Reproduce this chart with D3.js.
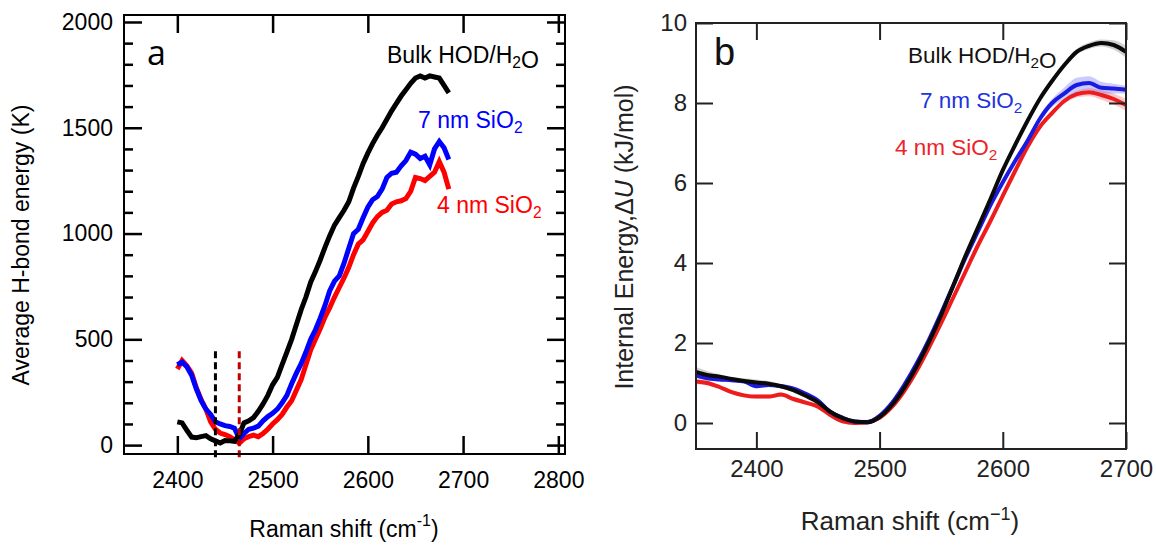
<!DOCTYPE html>
<html lang="en">
<head>
<meta charset="UTF-8" />
<title>H-bond energy vs Raman shift</title>
<script src="https://d3js.org/d3.v7.min.js"></script>
<style>
  body { margin: 0; background: #fff; }
  svg { display: block; font-family: "Liberation Sans", Arial, Helvetica, sans-serif; }
</style>
</head>
<body>
<svg width="1156" height="546"></svg>
<script>
// ---- panel a : average H-bond energy (K) ----
const shiftA = [2400, 2405, 2410, 2415, 2420, 2425, 2430, 2435, 2440, 2445, 2450, 2455, 2460, 2465, 2470,
  2475, 2480, 2485, 2490, 2495, 2500, 2505, 2510, 2515, 2520, 2525, 2530, 2535, 2540, 2545, 2550, 2555,
  2560, 2565, 2570, 2575, 2580, 2585, 2590, 2595, 2600, 2605, 2610, 2615, 2620, 2625, 2630, 2635, 2640,
  2645, 2650, 2655, 2660, 2665, 2670, 2675, 2680, 2685];
const bulkA = [110, 105, 70, 38, 35, 40, 45, 30, 20, 10, 22, 20, 18, 50, 105,
  115, 130, 160, 195, 235, 285, 320, 380, 440, 500, 570, 640, 700, 770, 820, 875, 935,
  990, 1040, 1075, 1110, 1150, 1215, 1270, 1330, 1380, 1425, 1465, 1500, 1540, 1580, 1615, 1650, 1680,
  1710, 1735, 1745, 1735, 1745, 1740, 1735, 1700, 1665];
const sio7A = [380, 392, 370, 330, 265, 210, 170, 145, 110, 100, 92, 88, 80, 30, 55,
  75, 80, 90, 115, 135, 150, 170, 200, 235, 290, 340, 385, 440, 500, 545, 600, 660,
  730, 775, 800, 860, 930, 1000, 1020, 1075, 1125, 1160, 1175, 1210, 1265, 1285, 1290, 1320, 1345,
  1385, 1375, 1355, 1365, 1325, 1400, 1435, 1405, 1350];
const sio4A = [360, 400, 375, 340, 270, 215, 170, 110, 75, 57, 50, 40, 25, 10, 30,
  40, 47, 40, 55, 75, 100, 120, 145, 180, 210, 260, 310, 380, 450, 500, 550, 605,
  650, 700, 745, 790, 840, 900, 950, 970, 1010, 1050, 1080, 1100, 1110, 1140, 1150, 1155, 1165,
  1200, 1265, 1260, 1250, 1270, 1290, 1340, 1290, 1210];
const minimaA = [2440, 2465];           // dashed markers: bulk, SiO2
const markerSpanA = [-57, 460];
const xTicksA = [2400, 2500, 2600, 2700, 2800];
const yTicksA = [0, 500, 1000, 1500, 2000];
const yMinorA = [100, 200, 300, 400, 600, 700, 800, 900, 1100, 1200, 1300, 1400, 1600, 1700, 1800, 1900];

// ---- panel b : internal energy (kJ/mol) ----
const shiftB = [2350, 2360, 2370, 2380, 2390, 2400, 2410, 2420, 2430, 2440, 2450, 2460, 2470, 2480,
  2490, 2500, 2510, 2520, 2530, 2540, 2550, 2560, 2570, 2580, 2590, 2600, 2610, 2620, 2630, 2640,
  2650, 2660, 2670, 2680, 2690, 2700];
const bulkB = [1.29, 1.20, 1.16, 1.10, 1.05, 1.01, 0.98, 0.92, 0.82, 0.68, 0.52, 0.28, 0.12, 0.04,
  0.02, 0.15, 0.45, 0.88, 1.41, 2.02, 2.70, 3.45, 4.20, 4.90, 5.60, 6.32, 6.95, 7.55, 8.10, 8.55,
  8.95, 9.28, 9.43, 9.50, 9.45, 9.28];
const sio7B = [1.20, 1.12, 1.09, 1.07, 1.04, 0.92, 0.95, 0.92, 0.86, 0.73, 0.56, 0.28, 0.13, 0.03,
  0.02, 0.18, 0.50, 0.95, 1.48, 2.08, 2.75, 3.45, 4.15, 4.80, 5.45, 6.02, 6.55, 7.05, 7.60, 8.00,
  8.24, 8.45, 8.50, 8.38, 8.36, 8.33];
const sio4B = [1.04, 1.00, 0.90, 0.77, 0.69, 0.66, 0.66, 0.71, 0.60, 0.51, 0.41, 0.20, 0.04, 0.00,
  0.02, 0.13, 0.40, 0.80, 1.30, 1.88, 2.50, 3.15, 3.80, 4.45, 5.05, 5.68, 6.30, 6.90, 7.40, 7.75,
  8.05, 8.22, 8.27, 8.20, 8.10, 7.95];
const bulkBErr = [0.12, 0.10, 0.06, 0.05, 0.07, 0.08, 0.07, 0.06, 0.05, 0.04, 0.04, 0.04, 0.03, 0.03,
  0.03, 0.03, 0.03, 0.04, 0.05, 0.05, 0.05, 0.05, 0.05, 0.05, 0.05, 0.05, 0.05, 0.05, 0.05, 0.06,
  0.06, 0.07, 0.08, 0.09, 0.12, 0.15];
const sio7BErr = [0.06, 0.05, 0.05, 0.05, 0.05, 0.05, 0.05, 0.05, 0.05, 0.05, 0.05, 0.05, 0.06, 0.06,
  0.06, 0.05, 0.05, 0.05, 0.05, 0.05, 0.05, 0.05, 0.05, 0.05, 0.05, 0.06, 0.07, 0.08, 0.08, 0.10,
  0.15, 0.18, 0.17, 0.15, 0.12, 0.10];
const sio4BErr = [0.07, 0.06, 0.05, 0.05, 0.05, 0.05, 0.05, 0.05, 0.05, 0.05, 0.05, 0.05, 0.05, 0.05,
  0.05, 0.05, 0.05, 0.05, 0.05, 0.05, 0.05, 0.05, 0.05, 0.05, 0.05, 0.05, 0.05, 0.05, 0.05, 0.06,
  0.06, 0.08, 0.10, 0.12, 0.14, 0.15];
const xTicksB = [2400, 2500, 2600, 2700];
const yTicksB = [0, 2, 4, 6, 8, 10];

const svg = d3.select("svg");
svg.append("rect").attr("width", 1156).attr("height", 546).attr("fill", "#fff");

// draws ticks on all four sides of a framed plot (inside ticks, labels left/bottom)
function frame(g, x, y, o) {
  const [x0, x1] = x.range(), [y0, y1] = y.range();
  const clean = sel => sel.call(s => s.select(".domain").remove());
  const style = (sel, w) => sel.selectAll(".tick line").attr("stroke", o.color).attr("stroke-width", w);

  const bottom = g.append("g").attr("transform", `translate(0,${y0})`)
    .call(d3.axisBottom(x).tickValues(o.xt).tickSizeInner(-o.tick).tickSizeOuter(0)
      .tickPadding(o.xpad).tickFormat(d3.format("d"))).call(clean);
  const top = g.append("g").attr("transform", `translate(0,${y1})`)
    .call(d3.axisTop(x).tickValues(o.xt).tickSizeInner(-o.tick).tickSizeOuter(0).tickFormat("")).call(clean);
  const left = g.append("g").attr("transform", `translate(${x0},0)`)
    .call(d3.axisLeft(y).tickValues(o.yt).tickSizeInner(-o.tick).tickSizeOuter(0)
      .tickPadding(o.ypad).tickFormat(d3.format("d"))).call(clean);
  const right = g.append("g").attr("transform", `translate(${x1},0)`)
    .call(d3.axisRight(y).tickValues(o.yt).tickSizeInner(-o.tick).tickSizeOuter(0).tickFormat("")).call(clean);
  [bottom, top, left, right].forEach(a => style(a, o.tw));

  if (o.ym) {
    [[d3.axisLeft, x0], [d3.axisRight, x1]].forEach(([ax, pos]) => {
      const m = g.append("g").attr("transform", `translate(${pos},0)`)
        .call(ax(y).tickValues(o.ym).tickSizeInner(-o.tick / 2).tickSizeOuter(0).tickFormat("")).call(clean);
      style(m, o.tw);
    });
  }
  g.selectAll(".tick text").attr("font-size", o.fs).attr("fill", o.color)
    .attr("font-family", "'Liberation Sans', Arial, sans-serif");

  g.append("rect").attr("x", x0).attr("y", y1).attr("width", x1 - x0).attr("height", y0 - y1)
    .attr("fill", "none").attr("stroke", o.color).attr("stroke-width", 2);
}

// legend text; object parts are subscripts
function label(g, x, y, parts, color, fs) {
  const t = g.append("text").attr("x", x).attr("y", y).attr("fill", color).attr("font-size", fs);
  parts.forEach(p => {
    if (typeof p === "object") {
      t.append("tspan").attr("font-size", fs * 0.68).attr("dy", fs * 0.22).text(p.low);
      t.append("tspan").attr("dy", -fs * 0.22).text("");
    } else t.append("tspan").text(p);
  });
  return t;
}

// ================= panel a =================
const ga = svg.append("g");
const xa = d3.scaleLinear().domain([2344, 2807]).range([124, 565]);
const ya = d3.scaleLinear().domain([-42, 2033]).range([454, 15]);

const lineA = vals => d3.line()
  .x((d, i) => xa(shiftA[i])).y(d => ya(d))(vals);

[[sio4A, "#ff0000"], [sio7A, "#0000ff"], [bulkA, "#000000"]].forEach(([vals, c]) => {
  ga.append("path").attr("d", lineA(vals)).attr("fill", "none")
    .attr("stroke", c).attr("stroke-width", 5).attr("stroke-linejoin", "miter");
});

minimaA.forEach((m, i) => {
  ga.append("line").attr("x1", xa(m)).attr("x2", xa(m))
    .attr("y1", ya(markerSpanA[0])).attr("y2", ya(markerSpanA[1]))
    .attr("stroke", i === 0 ? "#000" : "#c00000").attr("stroke-width", 3)
    .attr("stroke-dasharray", "7,4");
});

frame(ga, xa, ya, { xt: xTicksA, yt: yTicksA, ym: yMinorA, tick: 18, tw: 2.5,
  xpad: 18, ypad: 11, fs: 23, color: "#000" });

ga.append("text").attr("x", 147).attr("y", 65).attr("font-size", 34)
  .attr("font-family", "'Open Sans', 'Noto Sans', sans-serif").text("a");

label(ga, 387, 63, ["Bulk HOD/H", { low: "2" }, "O"], "#000", 23);
label(ga, 418, 128, ["7 nm SiO", { low: "2" }], "#0000ff", 23);
label(ga, 437, 213, ["4 nm SiO", { low: "2" }], "#ff0000", 23);

ga.append("text").attr("transform", "translate(29,245) rotate(-90)")
  .attr("text-anchor", "middle").attr("font-size", 23).text("Average H-bond energy (K)");

const xla = ga.append("text").attr("x", 344).attr("y", 537).attr("text-anchor", "middle").attr("font-size", 23);
xla.append("tspan").text("Raman shift (cm");
xla.append("tspan").attr("font-size", 16).attr("dy", -11).text("-1");
xla.append("tspan").attr("dy", 11).text(")");

// ================= panel b =================
const gb = svg.append("g");
const xb = d3.scaleLinear().domain([2351, 2700]).range([696, 1126]);
const yb = d3.scaleLinear().domain([-0.65, 10]).range([449, 23]);

const seriesB = [
  { v: sio4B, e: sio4BErr, c: "#ee1c1c", band: "rgba(240,60,70,0.28)" },
  { v: sio7B, e: sio7BErr, c: "#1a1ae0", band: "rgba(70,70,240,0.28)" },
  { v: bulkB, e: bulkBErr, c: "#0a0a0a", band: "rgba(90,90,90,0.28)" }
];
gb.append("clipPath").attr("id", "clipb").append("rect")
  .attr("x", 696).attr("y", 23).attr("width", 430).attr("height", 426);
const plotB = gb.append("g").attr("clip-path", "url(#clipb)");

seriesB.forEach(s => {
  const area = d3.area().curve(d3.curveMonotoneX)
    .x((d, i) => xb(shiftB[i]))
    .y0((d, i) => yb(d - s.e[i])).y1((d, i) => yb(d + s.e[i]));
  plotB.append("path").attr("d", area(s.v)).attr("fill", s.band);
});
seriesB.forEach(s => {
  const line = d3.line().curve(d3.curveMonotoneX).x((d, i) => xb(shiftB[i])).y(d => yb(d));
  plotB.append("path").attr("d", line(s.v)).attr("fill", "none")
    .attr("stroke", s.c).attr("stroke-width", 4);
});

frame(gb, xb, yb, { xt: xTicksB, yt: yTicksB, tick: 17, tw: 2,
  xpad: 11, ypad: 9, fs: 24, color: "#222" });

gb.append("text").attr("x", 714).attr("y", 65).attr("font-size", 38).attr("fill", "#111").text("b");

label(gb, 908, 63, ["Bulk HOD/H", { low: "2" }, "O"], "#111", 22.5);
label(gb, 920, 108, ["7 nm SiO", { low: "2" }], "#2233dd", 22.5);
label(gb, 895, 155, ["4 nm SiO", { low: "2" }], "#ee2228", 22.5);

const yl = gb.append("text").attr("transform", "translate(633,237) rotate(-90)")
  .attr("text-anchor", "middle").attr("font-size", 25).attr("fill", "#222");
yl.append("tspan").text("Internal Energy,\u0394");
yl.append("tspan").attr("font-style", "italic").text("U");
yl.append("tspan").text(" (kJ/mol)");

const xlb = gb.append("text").attr("x", 910).attr("y", 530).attr("text-anchor", "middle")
  .attr("font-size", 26).attr("fill", "#222");
xlb.append("tspan").text("Raman shift (cm");
xlb.append("tspan").attr("font-size", 18).attr("dy", -10).text("\u22121");
xlb.append("tspan").attr("dy", 10).text(")");
</script>
</body>
</html>
